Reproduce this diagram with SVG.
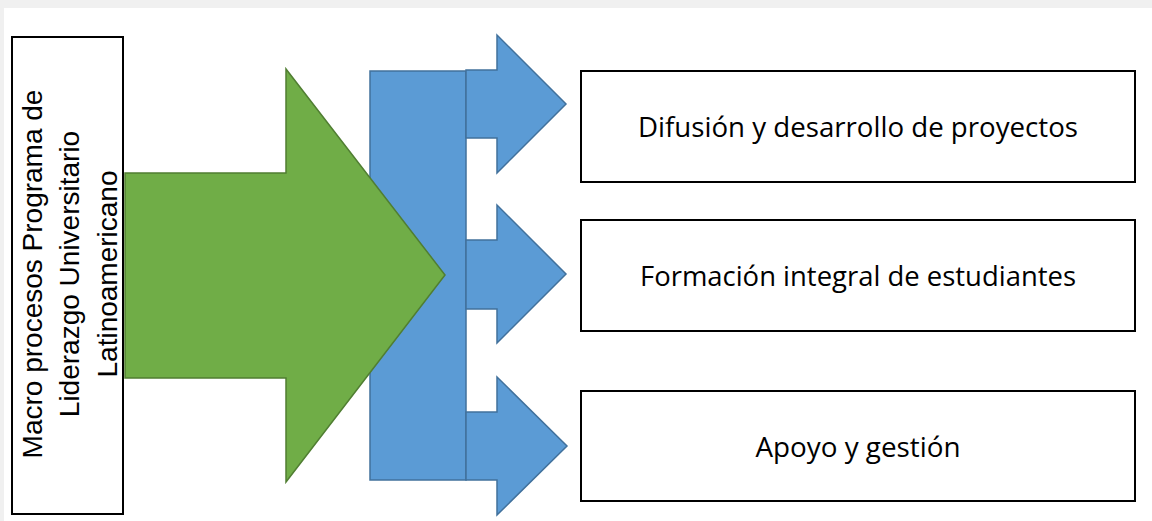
<svg xmlns="http://www.w3.org/2000/svg" width="1152" height="521" viewBox="0 0 1152 521">
<style>
.box{fill:#fff;stroke:#000;stroke-width:2}
.blue{fill:#5B9BD5;stroke:#41719C;stroke-width:1.5}
.green{fill:#70AD47;stroke:#507E32;stroke-width:1.5}
.lbl{font-family:"Open Sans","Noto Sans",sans-serif;font-size:28px;fill:#000;text-anchor:middle}
.vt{font-family:"Liberation Sans",Arial,sans-serif;font-size:28px;fill:#000;text-anchor:middle}
</style>
<rect x="0" y="0" width="1152" height="521" fill="#fff"/>
<rect x="0" y="0" width="1152" height="8" fill="#f0f0f0"/>
<rect x="0" y="8" width="4" height="513" fill="#f0f0f0"/>
<g id="connectors">
  <rect id="blue-bar" class="blue" x="370" y="71" width="96" height="409"/>
  <polygon id="arrow-1" class="blue" points="466,70 497,70 497,35 566,104 497,173 497,138 466,138"/>
  <polygon id="arrow-2" class="blue" points="466,240 497,240 497,205 566,274 497,343 497,309 466,309"/>
  <polygon id="arrow-3" class="blue" points="466,412 497,412 497,377 567,446 497,515 497,480 466,480"/>
  <polygon id="green-arrow" class="green" points="125,173 286,173 286,69 445,275 286,482 286,378 125,378"/>
</g>
<g id="node-macro">
  <rect class="box" x="12" y="37" width="111" height="477"/>
  <text class="vt" transform="translate(42,274) rotate(-90)">Macro procesos Programa de</text>
  <text class="vt" transform="translate(79,274) rotate(-90)">Liderazgo Universitario</text>
  <text class="vt" transform="translate(117,274) rotate(-90)">Latinoamericano</text>
</g>
<g id="node-difusion">
  <rect class="box" x="581" y="71" width="554" height="111"/>
  <text class="lbl" x="858" y="137" textLength="440" lengthAdjust="spacingAndGlyphs">Difusión y desarrollo de proyectos</text>
</g>
<g id="node-formacion">
  <rect class="box" x="581" y="220" width="554" height="111"/>
  <text class="lbl" x="858" y="286" textLength="436" lengthAdjust="spacingAndGlyphs">Formación integral de estudiantes</text>
</g>
<g id="node-apoyo">
  <rect class="box" x="581" y="391" width="554" height="110"/>
  <text class="lbl" x="858" y="457" textLength="205" lengthAdjust="spacingAndGlyphs">Apoyo y gestión</text>
</g>
</svg>
